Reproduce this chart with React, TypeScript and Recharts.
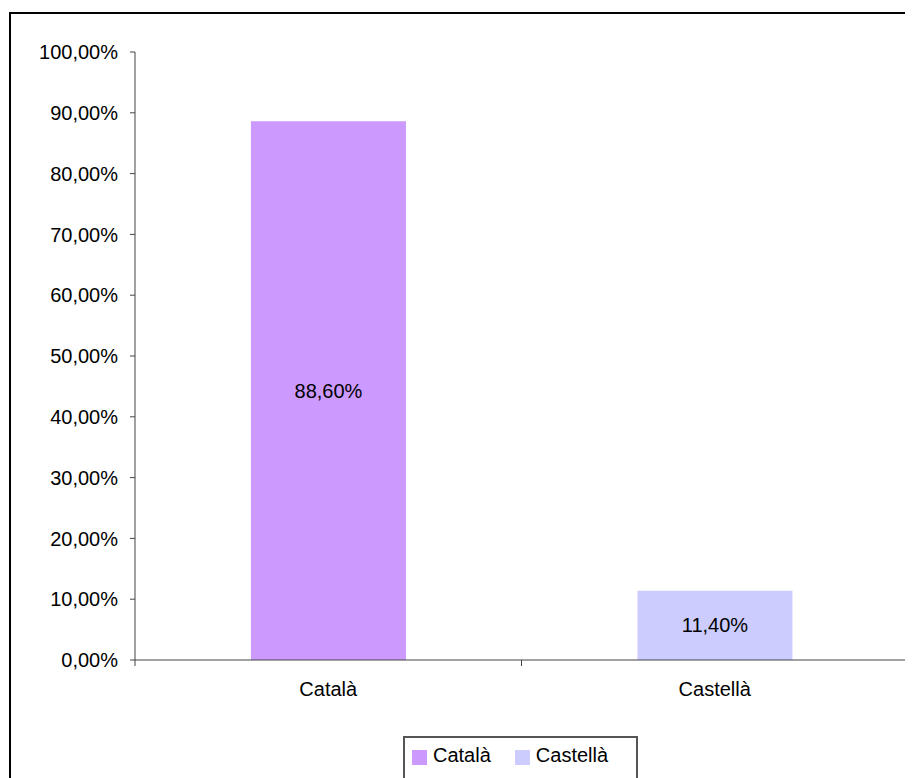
import React from 'react';
import { BarChart, Bar, XAxis, YAxis, Cell, LabelList } from 'recharts';

const categories = ['Català', 'Castellà'];
const shares = [0.886, 0.114];
const barColors = ['#CC99FF', '#CCCCFF'];
const yTicks = [0, 0.1, 0.2, 0.3, 0.4, 0.5, 0.6, 0.7, 0.8, 0.9, 1];

const data = categories.map((name, i) => ({ name, value: shares[i] }));

const W = 905;
const H = 770;
const margin = { top: 44, right: 5, bottom: 78, left: 0 };
const yAxisWidth = 127;
const bandWidth = (W - margin.left - margin.right - yAxisWidth) / categories.length;

const axisColor = '#444';
const fmtPct = (v: number) => (v * 100).toFixed(2).replace('.', ',') + '%';

const CategoryTick = (props: any) => {
    const { x, y, payload, index } = props;
    const isLast = index === categories.length - 1;
    return (
        <g>
            <line x1={x - bandWidth / 2} x2={x - bandWidth / 2} y1={y} y2={y + 6} stroke={axisColor} />
            {isLast && <line x1={x + bandWidth / 2} x2={x + bandWidth / 2} y1={y} y2={y + 6} stroke={axisColor} />}
            <text x={x} y={y + 22} dy="0.71em" textAnchor="middle" fill="#000" fontSize={20}>
                {payload.value}
            </text>
        </g>
    );
};

export default function App() {
    return (
        <div style={{ position: 'relative', width: W, height: H, overflow: 'hidden', fontFamily: '"Liberation Sans", Arial, sans-serif' }}>
            <div style={{ position: 'absolute', left: 1, top: 4, width: 2000, height: 2000, borderTop: '2px solid #000', borderLeft: '2px solid #000' }} />
            <BarChart width={W} height={H} data={data} margin={margin} barCategoryGap="30%">
                <XAxis
                    dataKey="name"
                    height={40}
                    axisLine={{ stroke: axisColor }}
                    tickLine={false}
                    tickSize={0}
                    tickMargin={0}
                    tick={<CategoryTick />}
                    interval={0}
                />
                <YAxis
                    width={yAxisWidth}
                    domain={[0, 1]}
                    ticks={yTicks}
                    tickFormatter={fmtPct}
                    axisLine={{ stroke: axisColor }}
                    tickLine={{ stroke: axisColor }}
                    tickSize={5}
                    tickMargin={12}
                    tick={{ fill: '#000', fontSize: 20 }}
                    interval={0}
                />
                <Bar dataKey="value" isAnimationActive={false}>
                    {data.map((d, i) => (
                        <Cell key={d.name} fill={barColors[i]} />
                    ))}
                    <LabelList dataKey="value" position="center" formatter={(v: any) => fmtPct(Number(v))} fill="#000" fontSize={20} />
                </Bar>
            </BarChart>
            <div
                style={{
                    position: 'absolute',
                    left: 395,
                    top: 728,
                    width: 224,
                    height: 60,
                    border: '2px solid #555',
                    boxSizing: 'content-box',
                    display: 'flex',
                    alignItems: 'flex-start',
                    paddingTop: 12,
                    paddingLeft: 7,
                    fontSize: 20,
                    color: '#000',
                }}
            >
                {categories.map((c, i) => (
                    <div key={c} style={{ display: 'flex', alignItems: 'center', height: 15, marginRight: 24 }}>
                        <span style={{ width: 15, height: 15, background: barColors[i], marginRight: 6, display: 'inline-block' }} />
                        <span style={{ lineHeight: '15px', position: 'relative', top: -2 }}>{c}</span>
                    </div>
                ))}
            </div>
        </div>
    );
}
